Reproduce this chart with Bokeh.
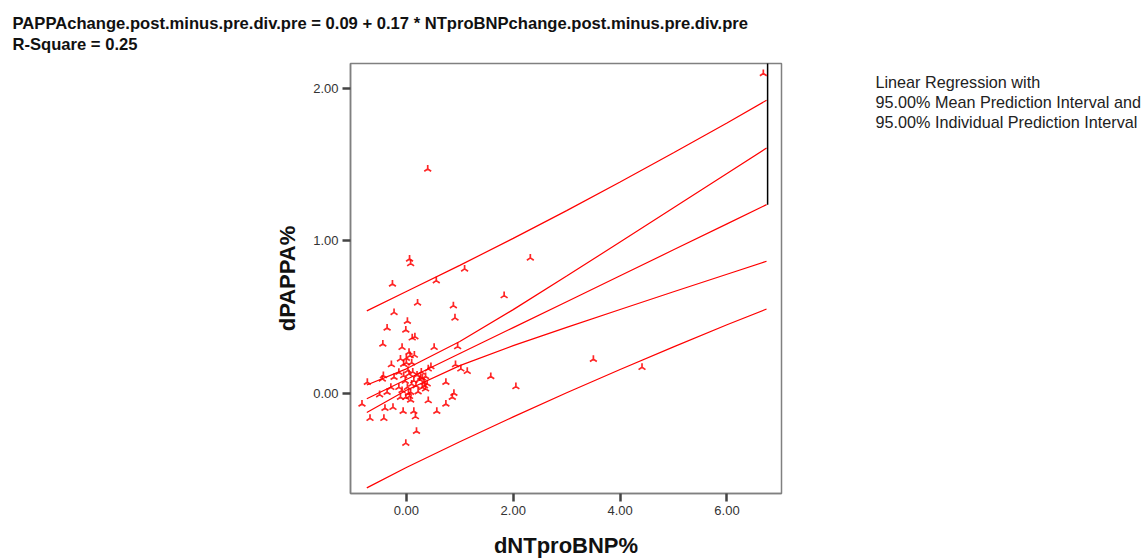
import math
from bokeh.plotting import figure
from bokeh.layouts import row
from bokeh.models import Range1d, FixedTicker, NumeralTickFormatter, Title, Label
from bokeh.embed import file_html
from bokeh.resources import INLINE

# ---- data ----
x_vals = [6.68, 0.40, 0.06, 0.08, 1.09, -0.26, 0.56, 2.32, 1.83, 0.21, 0.88, -0.23, 0.91,
          0.02, -0.36, -0.01, 0.11, 0.16, -0.44, -0.08, 0.52, 0.96, 0.07, -0.11, -0.28,
          0.92, 1.02, 1.14, 1.58, 0.46, 0.41, -0.73, -0.43, -0.45, -0.23, -0.14, -0.05,
          0.05, 0.14, 0.27, 0.33, 0.30, 0.39, 0.36, -0.29, -0.14, -0.08, 0.02, 0.08,
          -0.01, -0.11, -0.50, -0.36, -0.83, 0.74, 0.89, 0.86, 0.74, 0.41, 0.08, -0.68,
          -0.42, -0.40, -0.25, -0.06, 0.14, 0.17, 0.57, 0.19, -0.01, 3.50, 4.41, 2.05,
          0.05, 0.00, 0.10, 0.03, 0.12, 0.20, 0.25, 0.18, 0.22, 0.10, -0.02, 0.04, 0.30,
          0.34, 0.06, 0.00, -0.05, 0.15, 0.28, 0.36]
y_vals = [2.096, 1.47, 0.88, 0.85, 0.815, 0.716, 0.738, 0.887, 0.64, 0.592, 0.574, 0.53, 0.494,
          0.472, 0.428, 0.415, 0.363, 0.371, 0.323, 0.301, 0.301, 0.306, 0.247, 0.225, 0.188,
          0.188, 0.16, 0.144, 0.11, 0.175, 0.16, 0.072, 0.116, 0.094, 0.105, 0.138, 0.116,
          0.127, 0.083, 0.105, 0.072, 0.039, 0.062, 0.029, 0.039, 0.039, 0.018, 0.039, 0.007,
          -0.026, -0.026, -0.009, 0.007, -0.07, 0.072, 0.0, -0.026, -0.07, -0.048, -0.044, -0.164,
          -0.164, -0.098, -0.092, -0.118, -0.118, -0.153, -0.118, -0.249, -0.327, 0.223, 0.170, 0.044,
          0.269, 0.20, 0.20, 0.15, 0.14, 0.12, 0.09, 0.05, 0.01, 0.06, 0.08, 0.00, 0.10,
          0.05, -0.02, 0.23, 0.19, 0.25, 0.14, 0.11]

line_x = [-0.74, 0.0, 1.0, 2.0, 3.0, 4.0, 5.0, 6.0, 6.74]
fit_y = [-0.036, 0.09, 0.26, 0.43, 0.60, 0.77, 0.94, 1.11, 1.236]
mean_hi = [0.054, 0.16, 0.339, 0.548, 0.768, 0.991, 1.215, 1.44, 1.607]
mean_lo = [-0.126, 0.02, 0.181, 0.312, 0.432, 0.549, 0.665, 0.78, 0.865]
ind_hi = [0.54, 0.667, 0.838, 1.015, 1.197, 1.384, 1.576, 1.771, 1.92]
ind_lo = [-0.62, -0.487, -0.318, -0.155, 0.003, 0.156, 0.304, 0.449, 0.552]

x_ticks = [0, 2, 4, 6]
y_ticks = [0, 1, 2]

title_lines = ["PAPPAchange.post.minus.pre.div.pre = 0.09 + 0.17 * NTproBNPchange.post.minus.pre.div.pre",
               "R-Square = 0.25"]
legend_lines = ["Linear Regression with",
                "95.00% Mean Prediction Interval and",
                "95.00% Individual Prediction Interval"]

FONT = "Liberation Sans"
H = 560
MAIN_W = 860
SIDE_W = 282
FRAME_TOP = 63
FRAME_BOTTOM = 493

p = figure(width=MAIN_W, height=H, output_backend="svg", toolbar_location=None,
           x_range=Range1d(-1.045, 7.02), y_range=Range1d(-0.657, 2.161),
           min_border_left=350, min_border_right=MAIN_W - 781, min_border_top=FRAME_TOP,
           min_border_bottom=H - FRAME_BOTTOM, background_fill_color="white",
           border_fill_color="white")

p.xgrid.visible = False
p.ygrid.visible = False
p.outline_line_color = "#808080"
p.outline_line_width = 1.5

p.xaxis.ticker = FixedTicker(ticks=x_ticks)
p.yaxis.ticker = FixedTicker(ticks=y_ticks)
for ax in (p.xaxis[0], p.yaxis[0]):
    ax.formatter = NumeralTickFormatter(format="0.00")
    ax.minor_tick_line_color = None
    ax.major_tick_in = 0
    ax.major_tick_out = 8
    ax.major_tick_line_width = 2.5
    ax.major_tick_line_color = "#444444"
    ax.axis_line_color = "#808080"
    ax.axis_line_width = 1.5
    ax.major_label_text_font = FONT
    ax.major_label_text_font_size = "13px"
    ax.major_label_text_color = "#333333"
    ax.major_label_standoff = 4
    ax.axis_label_text_font = FONT
    ax.axis_label_text_font_style = "bold"
    ax.axis_label_text_font_size = "22px"
    ax.axis_label_text_color = "#111111"

p.xaxis.axis_label = "dNTproBNP%"
p.yaxis.axis_label = "dPAPPA%"
p.xaxis.axis_label_standoff = 15
p.yaxis.axis_label_standoff = 10

for ys in (ind_hi, mean_hi, fit_y, mean_lo, ind_lo):
    p.line(line_x, ys, line_color="red", line_width=1.2)

p.segment(x0=[6.76], y0=[fit_y[-1]], x1=[6.76], y1=[2.3], line_color="black", line_width=1.5)

p.scatter(x_vals, y_vals, marker="y", angle=math.pi, size=8, line_color="red",
          line_width=1.7, line_alpha=0.85)

# two-line title at the top left
p.title.visible = False
p.add_layout(Title(text="\n".join(title_lines), align="left", offset=-338, text_font=FONT,
                   text_font_style="bold", text_font_size="16.6px", text_color="#111111",
                   text_line_height=1.12, standoff=18), "above")

# right-hand text in a side figure; its frame is aligned with the main frame,
# so the y range spans the frame height in pixels (value = pixels above frame bottom)
FRAME_H = FRAME_BOTTOM - FRAME_TOP
p2 = figure(width=SIDE_W, height=H, output_backend="svg", toolbar_location=None,
            x_range=Range1d(0, SIDE_W), y_range=Range1d(0, FRAME_H), min_border=0,
            x_axis_type=None, y_axis_type=None, outline_line_color=None,
            background_fill_color="white", border_fill_color="white")
p2.xgrid.visible = False
p2.ygrid.visible = False
p2.scatter(x=[1], y=[1], alpha=0)
for i, t in enumerate(legend_lines):
    p2.add_layout(Label(x=875 - MAIN_W, y=FRAME_BOTTOM - (81 + 20 * i), text=t, text_font=FONT,
                        text_font_size="16.2px", text_baseline="middle", text_color="#222222"))

open("out.html", "w").write(file_html(row(p, p2), INLINE))
